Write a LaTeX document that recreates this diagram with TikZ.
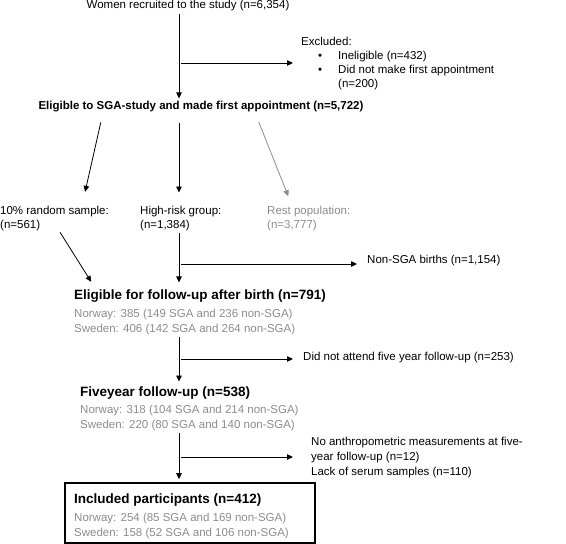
\documentclass[tikz,border=0pt]{standalone}
\usepackage{fontspec}
\setmainfont{Liberation Sans}
\usetikzlibrary{arrows.meta}

\definecolor{fadegray}{gray}{0.55}
\newcommand{\exbullet}{\hspace*{17pt}\makebox[20pt][l]{\textbullet}}

\begin{document}
\begin{tikzpicture}[x=1pt,y=-1pt,
    txt/.style={font=\fontsize{11.5}{15}\selectfont, inner sep=0pt, align=left},
    txtb/.style={font=\fontsize{11.5}{15}\selectfont\bfseries, inner sep=0pt},
    head/.style={font=\fontsize{13.5}{16}\selectfont\bfseries, inner sep=0pt},
    sub/.style={txt, text=fadegray},
    arr/.style={-{Triangle[length=6pt,width=5.5pt]}, line width=0.8pt, shorten <=2pt, shorten >=3pt}]

    \useasboundingbox (0,0) rectangle (566,544);

    % the texts
    \node[txt] (recruit) at (188,6) {Women recruited to the study (n=6,354)};
    \node[txt, font=\fontsize{11.5}{14}\selectfont, anchor=north west] (excl) at (301,36.5) {Excluded:\\
        \exbullet Ineligible (n=432)\\
        \exbullet Did not make first appointment\\
        \hspace*{37pt}(n=200)};
    \node[txtb] (sga) at (201,107) {Eligible to SGA-study and made first appointment (n=5,722)};

    \node[txt, font=\fontsize{11.5}{14}\selectfont, anchor=north west] (random) at (0,205.5) {10\% random sample:\\(n=561)};
    \node[txt, font=\fontsize{11.5}{14}\selectfont, anchor=north west] (highrisk) at (140,205.5) {High-risk group:\\(n=1,384)};
    \node[sub, font=\fontsize{11.5}{14}\selectfont, anchor=north west] (rest) at (267,205.5) {Rest population:\\(n=3,777)};
    \node[txt, anchor=west] (nonsga) at (367,261) {Non-SGA births (n=1,154)};

    \node[head, anchor=west] (elig) at (74,296) {Eligible for follow-up after birth (n=791)};
    \node[sub, anchor=north west] (eligsub) at (74,308.5) {Norway: 385 (149 SGA and 236 non-SGA)\\Sweden: 406 (142 SGA and 264 non-SGA)};
    \node[txt, anchor=west] (notattend) at (303,358) {Did not attend five year follow-up (n=253)};

    \node[head, anchor=west] (five) at (80,393) {Fiveyear follow-up (n=538)};
    \node[sub, anchor=north west] (fivesub) at (80,404.5) {Norway: 318 (104 SGA and 214 non-SGA)\\Sweden: 220 (80 SGA and 140 non-SGA)};
    \node[txt, anchor=north west] (noanthro) at (311,436.5) {No anthropometric measurements at five-\\year follow-up (n=12)\\Lack of serum samples (n=110)};

    \node[draw, line width=1.6pt, minimum width=250pt, minimum height=60pt, inner sep=0pt] (inclbox) at (190,513) {};
    \node[head, anchor=west] (incl) at (74,500) {Included participants (n=412)};
    \node[sub, anchor=north west] (inclsub) at (74,512.5) {Norway: 254 (85 SGA and 169 non-SGA)\\Sweden: 158 (52 SGA and 106 non-SGA)};

    % the line the main arrows run along, and where the side arrows leave it
    \coordinate (col) at (179,0);
    \coordinate (b1) at (179,63);
    \coordinate (b2) at (179,264);
    \coordinate (b3) at (179,359);
    \coordinate (b4) at (179,457);

    % draw the arrows
    \draw[arr] (recruit.south -| col) -- (sga.north -| col);
    \draw[arr, shorten >=8pt] (b1) -- (b1 -| excl.west);

    \draw[arr, shorten <=10pt, shorten >=14pt] ([xshift=-98pt]sga.south) -- ([xshift=82pt]random.north west);
    \draw[arr, shorten <=10pt, shorten >=13pt] (sga.south -| col) -- (highrisk.north -| col);
    \draw[arr, fadegray, shorten <=10pt, shorten >=10pt] ([xshift=54pt]sga.south) -- ([xshift=25pt]rest.north west);

    \draw[arr, shorten >=9pt] ([xshift=59pt]random.south west) -- ([xshift=22pt]elig.north west);
    \draw[arr, shorten >=7pt] (highrisk.south -| col) -- (elig.north -| col);
    \draw[arr, shorten >=10pt] (b2) -- (b2 -| nonsga.west);

    \draw[arr, shorten >=5pt] (eligsub.south -| col) -- (five.north -| col);
    \draw[arr, shorten >=10pt] (b3) -- (b3 -| notattend.west);

    \draw[arr] (fivesub.south -| col) -- (inclbox.north -| col);
    \draw[arr, shorten >=18pt] (b4) -- (b4 -| noanthro.west);

\end{tikzpicture}
\end{document}
